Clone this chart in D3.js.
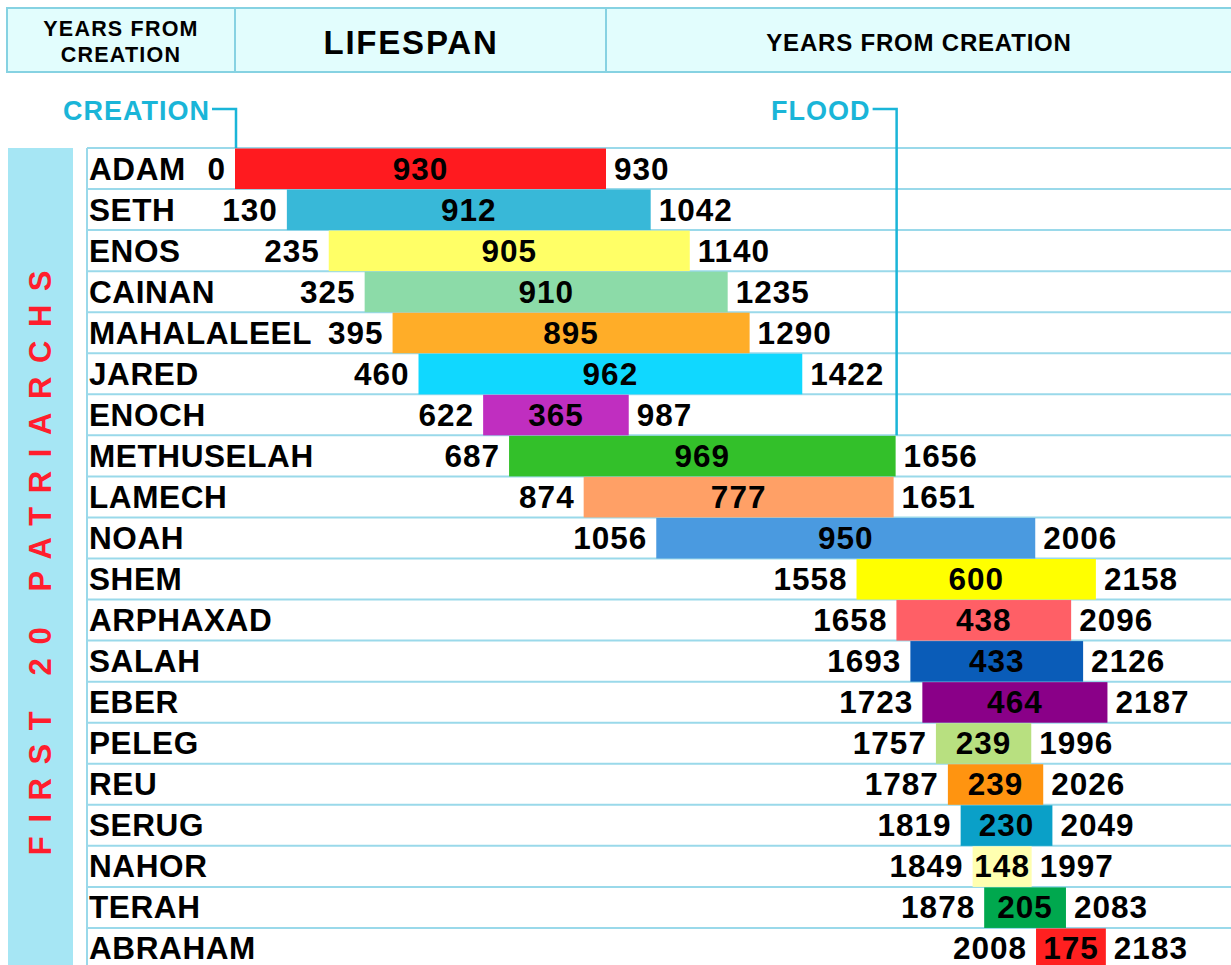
<!DOCTYPE html>
<html><head><meta charset="utf-8">
<script src="https://cdn.jsdelivr.net/npm/d3@7"></script>
<style>
html,body{margin:0;padding:0;background:#fff;}
svg{display:block;font-family:"Liberation Sans",Arial,sans-serif;font-weight:bold;}
</style></head><body>
<svg id="c" width="1231" height="965"></svg>
<script>
const names = ["ADAM","SETH","ENOS","CAINAN","MAHALALEEL","JARED","ENOCH","METHUSELAH","LAMECH","NOAH","SHEM","ARPHAXAD","SALAH","EBER","PELEG","REU","SERUG","NAHOR","TERAH","ABRAHAM"];
const born = [0,130,235,325,395,460,622,687,874,1056,1558,1658,1693,1723,1757,1787,1819,1849,1878,2008];
const lifespan = [930,912,905,910,895,962,365,969,777,950,600,438,433,464,239,239,230,148,205,175];
const died = [930,1042,1140,1235,1290,1422,987,1656,1651,2006,2158,2096,2126,2187,1996,2026,2049,1997,2083,2183];
const colors = ["#ff1a1f","#38b8d8","#ffff66","#8cdba8","#ffad28","#10d8ff","#c02ec0","#33c02a","#ffa066","#4a9ae0","#ffff00","#ff5f66","#0a5cb8","#8a0088","#b8e080","#ff9410","#0aa0c8","#ffffb0","#00a84e","#ff2020"];
const headerLabels = ["YEARS FROM|CREATION","LIFESPAN","YEARS FROM CREATION"];
const markers = [{label:"CREATION", year:0, until:0},{label:"FLOOD", year:1656, until:7}];
const sideTitle = "FIRST 20 PATRIARCHS";

const svg = d3.select("#c");
const x = d3.scaleLinear().domain([0,930]).range([235,606]);
const y = d3.scaleBand().domain(d3.range(names.length)).range([148,148+20*41.05]).padding(0);
const gridColor = "#9ad9ea";
const cyan = "#1ab5d8";

// header
const hdr = svg.append("g");
hdr.append("rect").attr("x",7).attr("y",8).attr("width",1230).attr("height",64)
  .attr("fill","#e2fdfd").attr("stroke","#86d2e2").attr("stroke-width",2);
[235,606].forEach(d=>hdr.append("line").attr("x1",d).attr("x2",d).attr("y1",8).attr("y2",72)
  .attr("stroke","#86d2e2").attr("stroke-width",2));
const l0 = headerLabels[0].split("|");
hdr.append("text").attr("x",121).attr("y",36).attr("text-anchor","middle")
  .attr("font-size",21.5).attr("letter-spacing",1.2).text(l0[0]);
hdr.append("text").attr("x",121).attr("y",62).attr("text-anchor","middle")
  .attr("font-size",21.5).attr("letter-spacing",1.2).text(l0[1]);
hdr.append("text").attr("x",411).attr("y",42).attr("text-anchor","middle").attr("dominant-baseline","central")
  .attr("font-size",33).attr("letter-spacing",1.8).text(headerLabels[1]);
hdr.append("text").attr("x",919).attr("y",42).attr("text-anchor","middle").attr("dominant-baseline","central")
  .attr("font-size",24).attr("letter-spacing",0.8).text(headerLabels[2]);

// side panel
svg.append("rect").attr("x",8).attr("y",148).attr("width",65).attr("height",830).attr("fill","#a6e6f4");
svg.append("text").attr("transform","translate(51,556) rotate(-90)").attr("text-anchor","middle")
  .attr("font-size",31).attr("letter-spacing",13.6).attr("fill","#ff1e2d").text(sideTitle);

// grid
const grid = svg.append("g");
d3.range(names.length+1).forEach(i=>{
  const yy = 148 + i*41.05;
  grid.append("line").attr("x1",87).attr("x2",1231).attr("y1",yy).attr("y2",yy)
    .attr("stroke",gridColor).attr("stroke-width",2);
});
grid.append("line").attr("x1",87).attr("x2",87).attr("y1",148).attr("y2",965).attr("stroke",gridColor).attr("stroke-width",2);

// markers
markers.forEach(m=>{
  const mx = x(m.year)+1;
  const bottom = m.until===0 ? 148 : y(m.until);
  svg.append("path").attr("d",`M${mx-24},109H${mx}V${bottom}`).attr("fill","none")
    .attr("stroke",cyan).attr("stroke-width",2.5);
  svg.append("text").attr("x",mx-26).attr("y",111).attr("text-anchor","end").attr("dominant-baseline","central")
    .attr("font-size",27).attr("letter-spacing",1).attr("fill",cyan).text(m.label);
});

// bars
const rows = svg.append("g").selectAll("g").data(names).join("g");
rows.append("rect")
  .attr("x",(d,i)=>x(born[i])).attr("y",(d,i)=>y(i)+0.5)
  .attr("width",(d,i)=>x(died[i])-x(born[i])).attr("height",y.bandwidth()-0.5)
  .attr("fill",(d,i)=>colors[i]);
const fs = 31.5;
const ls = 1;
rows.append("text").attr("x",89).attr("y",(d,i)=>y(i)+y.bandwidth()/2)
  .attr("dominant-baseline","central").attr("font-size",fs).attr("letter-spacing",0.6).text(d=>d);
rows.append("text").attr("x",(d,i)=>x(born[i])-9).attr("y",(d,i)=>y(i)+y.bandwidth()/2)
  .attr("text-anchor","end").attr("dominant-baseline","central").attr("font-size",fs).attr("letter-spacing",ls)
  .text((d,i)=>born[i]);
rows.append("text").attr("x",(d,i)=>(x(born[i])+x(died[i]))/2).attr("y",(d,i)=>y(i)+y.bandwidth()/2)
  .attr("text-anchor","middle").attr("dominant-baseline","central").attr("font-size",fs).attr("letter-spacing",ls)
  .text((d,i)=>lifespan[i]);
rows.append("text").attr("x",(d,i)=>x(died[i])+8).attr("y",(d,i)=>y(i)+y.bandwidth()/2)
  .attr("dominant-baseline","central").attr("font-size",fs).attr("letter-spacing",ls)
  .text((d,i)=>died[i]);
</script>
</body></html>
